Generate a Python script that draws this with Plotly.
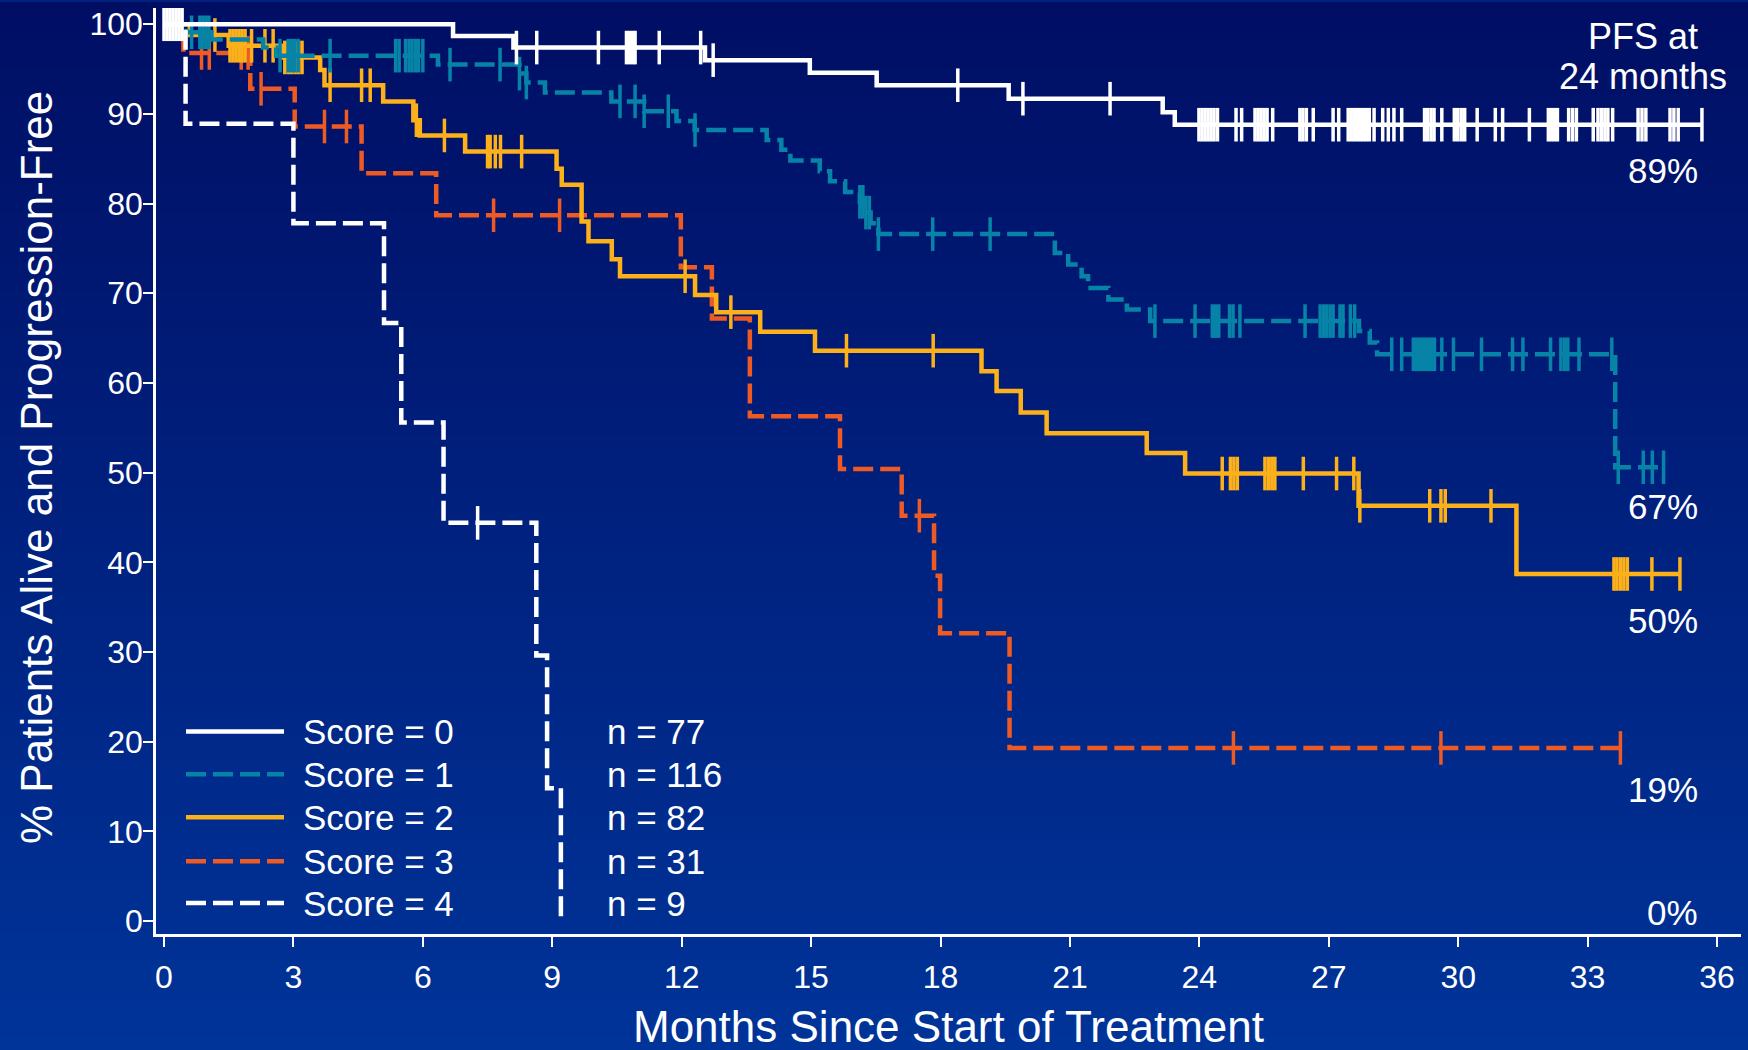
import plotly.graph_objects as go

FONT = "Liberation Sans, Arial, Helvetica, sans-serif"

# ---------------- data ----------------
month_ticks = list(range(0, 37, 3))
pct_ticks = list(range(0, 101, 10))

score_labels = ["Score = 0", "Score = 1", "Score = 2", "Score = 3", "Score = 4"]
n_patients = [77, 116, 82, 31, 9]
pfs24_labels = ["89%", "67%", "50%", "19%", "0%"]

# Score = 0 (event times in months, survival % after each event)
s0_t = [6.70, 8.10, 12.54, 14.97, 16.52, 19.58, 23.15, 23.43]
s0_v = [98.7, 97.4, 96.0, 94.6, 93.2, 91.7, 90.2, 88.8]
s0_end = 35.65
s0_cens = [0.0, 0.07, 0.14, 0.21, 0.28, 0.35, 0.42, 8.17, 8.64, 10.07, 10.72, 10.79,
           10.86, 10.92, 11.48, 12.44, 12.73, 18.40, 19.91, 21.93, 23.99, 24.06, 24.13,
           24.20, 24.27, 24.34, 24.42, 24.85, 24.98, 25.29, 25.36, 25.43, 25.50, 25.57,
           25.70, 26.33, 26.40, 26.48, 26.64, 27.10, 27.23, 27.45, 27.52, 27.59, 27.66,
           27.73, 27.80, 27.87, 27.94, 28.05, 28.25, 28.38, 28.51, 28.69, 29.22, 29.29,
           29.37, 29.44, 29.62, 29.91, 29.99, 30.07, 30.15, 30.44, 30.86, 31.03, 31.65,
           32.09, 32.16, 32.23, 32.30, 32.56, 32.65, 32.74, 33.13, 33.24, 33.32, 33.40,
           33.47, 33.58, 34.17, 34.26, 34.35, 34.91, 35.00, 35.10, 35.65]

# Score = 1
s1_t = [0.52, 1.10, 2.30, 2.60, 6.35, 8.24, 8.40, 8.83, 10.37, 11.13, 11.88, 12.30,
        13.97, 14.31, 14.52, 15.20, 15.44, 15.79, 16.13, 16.25, 16.38, 16.56, 20.65,
        20.96, 21.27, 21.42, 21.89, 22.32, 22.86, 27.70, 27.95, 28.12, 33.64]
s1_v = [99.1, 98.3, 97.4, 96.5, 95.5, 94.5, 93.5, 92.4, 91.4, 90.3, 89.2, 88.2,
        87.1, 86.0, 84.8, 83.6, 82.5, 81.3, 80.2, 79.0, 77.8, 76.6, 74.5,
        73.2, 71.9, 70.6, 69.3, 68.2, 66.9, 65.8, 64.5, 63.2, 50.6]
s1_end = 34.76
s1_cens = [0.64, 0.83, 0.90, 0.97, 1.04, 2.69, 2.88, 2.95, 3.03, 3.11, 3.85, 5.37,
           5.45, 5.60, 5.68, 5.75, 5.83, 5.90, 6.00, 6.63, 7.79, 8.24, 8.40, 10.57,
           10.92, 11.13, 11.69, 12.31, 16.13, 16.20, 16.27, 16.35, 16.56, 17.82, 19.15,
           22.97, 23.90, 24.30, 24.37, 24.45, 24.70, 24.78, 24.94, 26.45, 26.80, 26.88,
           26.95, 27.03, 27.10, 27.26, 27.33, 27.50, 27.60, 28.46, 28.69, 28.96, 29.03,
           29.10, 29.17, 29.24, 29.31, 29.38, 29.45, 29.62, 29.89, 30.54, 31.26, 31.50,
           32.14, 32.38, 32.46, 32.54, 32.80, 33.56, 33.71, 34.29, 34.50, 34.76]

# Score = 2
s2_t = [0.60, 1.50, 2.75, 3.62, 3.72, 5.08, 5.78, 5.93, 6.98, 9.10, 9.22, 9.68, 9.84,
        10.38, 10.57, 12.31, 12.80, 13.82, 15.09, 18.95, 19.30, 19.86, 20.46, 22.78,
        23.67, 27.69, 31.35]
s2_v = [98.8, 97.6, 96.3, 94.9, 93.2, 91.4, 89.3, 87.6, 85.8, 83.9, 82.1, 78.0, 75.8,
        73.8, 71.9, 69.8, 67.9, 65.7, 63.6, 61.3, 59.1, 56.7, 54.4, 52.2,
        49.9, 46.3, 38.7]
s2_end = 35.14
s2_cens = [1.18, 1.53, 1.60, 1.67, 1.74, 1.81, 1.88, 2.03, 2.34, 2.53, 2.80, 2.88,
           2.96, 3.04, 3.12, 3.20, 3.85, 4.58, 4.78, 5.85, 6.50, 7.50, 7.56, 7.68,
           7.80, 8.29, 12.08, 13.14, 15.82, 17.83, 24.53, 24.72, 24.80, 24.88, 25.52,
           25.60, 25.68, 25.75, 26.41, 27.18, 27.58, 27.72, 29.34, 29.60, 29.70, 30.76,
           33.61, 33.68, 33.76, 33.84, 33.92, 34.49, 35.14]

# Score = 3
s3_t = [0.45, 2.00, 3.03, 4.58, 6.31, 11.98, 12.70, 13.58, 15.67, 17.10, 17.85, 17.99, 19.60]
s3_v = [96.8, 92.8, 88.6, 83.4, 78.7, 72.9, 67.2, 56.3, 50.4, 45.2, 38.5, 32.1, 19.3]
s3_end = 33.76
s3_cens = [0.87, 1.05, 1.79, 1.95, 2.25, 3.72, 4.23, 7.64, 9.17, 17.51, 24.79, 29.60, 33.76]

# Score = 4
s4_t = [0.50, 3.00, 5.10, 5.50, 6.48, 8.63, 8.88, 9.20]
s4_v = [88.9, 77.8, 66.7, 55.6, 44.4, 29.6, 14.8, 0.0]
s4_end = 9.20
s4_cens = [7.27]

# ---------------- styling ----------------
colors = ["#FFFFFF", "#0683A6", "#FCB01A", "#EE5A24", "#FFFFFF"]
dashes = ["solid", "20px,7px", "solid", "20px,7px", "20px,7px"]
LW = 4.5

series = [
    (s0_t, s0_v, s0_end, s0_cens),
    (s1_t, s1_v, s1_end, s1_cens),
    (s2_t, s2_v, s2_end, s2_cens),
    (s3_t, s3_v, s3_end, s3_cens),
    (s4_t, s4_v, s4_end, s4_cens),
]


def surv_at(times, vals, c):
    v = 100.0
    for t, val in zip(times, vals):
        if t <= c:
            v = val
        else:
            break
    return v


fig = go.Figure()
draw_order = [3, 2, 1, 4, 0]
for i in draw_order:
    t, v, end, cens = series[i]
    xs = [0.0] + t + [end]
    ys = [100.0] + v + [v[-1]]
    fig.add_trace(go.Scatter(
        x=xs, y=ys, mode="lines", line=dict(color=colors[i], width=LW, dash=dashes[i], shape="hv"),
        showlegend=False, hoverinfo="skip"))
    fig.add_trace(go.Scatter(
        x=cens, y=[surv_at(t, v, c) for c in cens], mode="markers",
        marker=dict(symbol="line-ns", size=24, line=dict(color=colors[i], width=3.5)),
        showlegend=False, hoverinfo="skip"))

# ---------------- layout geometry ----------------
W, H = 1748, 1050
ML, MR, MT, MB = 156, 7, 6, 116
PW, PH = W - ML - MR, H - MT - MB


def px(X):
    return (X - ML) / PW


def py(Y):
    return (H - MB - Y) / PH


shapes = []
# vertical background gradient
nb = 80
top = (0, 14, 100)
bot = (0, 52, 153)
for k in range(nb):
    f = (k + 0.5) / nb
    c = tuple(round(top[j] + (bot[j] - top[j]) * f) for j in range(3))
    y0 = k * H / nb
    y1 = (k + 1) * H / nb + 1
    shapes.append(dict(type="rect", xref="paper", yref="paper", x0=px(0), x1=px(W),
                       y0=py(y1), y1=py(y0), fillcolor="rgb(%d,%d,%d)" % c,
                       line=dict(width=0), layer="below"))

annotations = []
row_Y = [731, 774, 817, 861, 903]
for i in range(5):
    yy = py(row_Y[i])
    shapes.append(dict(type="line", xref="paper", yref="paper", x0=px(186), x1=px(284),
                       y0=yy, y1=yy, line=dict(color=colors[i], width=LW, dash=dashes[i])))
    annotations.append(dict(xref="paper", yref="paper", x=px(301), y=yy, text=score_labels[i],
                            showarrow=False, xanchor="left", yanchor="middle",
                            font=dict(size=35, color="white", family=FONT)))
    annotations.append(dict(xref="paper", yref="paper", x=px(605), y=yy,
                            text="n = %d" % n_patients[i],
                            showarrow=False, xanchor="left", yanchor="middle",
                            font=dict(size=35, color="white", family=FONT)))

label_Y = [169, 506, 620, 789, 912]
for i in range(5):
    annotations.append(dict(xref="paper", yref="paper", x=px(1700), y=py(label_Y[i]),
                            text=pfs24_labels[i], showarrow=False, xanchor="right",
                            yanchor="middle", font=dict(size=35, color="white", family=FONT)))

annotations.append(dict(xref="paper", yref="paper", x=px(1643), y=py(35), text="PFS at",
                        showarrow=False, xanchor="center", yanchor="middle",
                        font=dict(size=36, color="white", family=FONT)))
annotations.append(dict(xref="paper", yref="paper", x=px(1643), y=py(75), text="24 months",
                        showarrow=False, xanchor="center", yanchor="middle",
                        font=dict(size=36, color="white", family=FONT)))

annotations.append(dict(xref="paper", yref="paper", x=px(948), y=py(1027),
                        text="Months Since Start of Treatment", showarrow=False,
                        xanchor="center", yanchor="middle",
                        font=dict(size=44, color="white", family=FONT)))
annotations.append(dict(xref="paper", yref="paper", x=px(36), y=py(467),
                        text="% Patients Alive and Progression-Free", showarrow=False,
                        textangle=-90, xanchor="center", yanchor="middle",
                        font=dict(size=44, color="white", family=FONT)))

x_lo = (ML - 164) / 43.14
x_hi = (W - MR - 164) / 43.14
y_lo = (921 - (H - MB)) / 8.987
y_hi = (921 - MT) / 8.987

fig.update_layout(
    width=W, height=H,
    margin=dict(l=ML, r=MR, t=MT, b=MB, pad=0),
    paper_bgcolor="rgb(0,33,126)",
    plot_bgcolor="rgba(0,0,0,0)",
    shapes=shapes,
    annotations=annotations,
    showlegend=False,
    xaxis=dict(range=[x_lo, x_hi], tickvals=month_ticks, showgrid=False, zeroline=False,
               showline=True, linecolor="white", linewidth=2.5, ticks="outside",
               ticklen=10, tickwidth=2, tickcolor="white", ticklabelstandoff=3,
               tickfont=dict(size=32, color="white", family=FONT)),
    yaxis=dict(range=[y_lo, y_hi], tickvals=pct_ticks, showgrid=False, zeroline=False,
               showline=True, linecolor="white", linewidth=2.5, ticks="outside",
               ticklen=10, tickwidth=2, tickcolor="white", ticklabelstandoff=-6,
               tickfont=dict(size=32, color="white", family=FONT)),
)

fig.write_html("out.html")
